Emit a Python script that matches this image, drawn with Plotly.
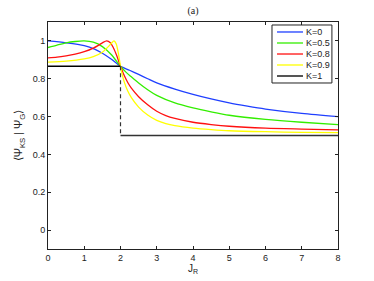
import plotly.graph_objects as go

# ---- data ----
J_k0 = [0, 0.5, 1.0, 1.3, 1.5, 1.75, 2.0, 2.25, 2.5, 2.75, 3.0, 3.5, 4.0, 4.5, 5.0, 5.5, 6.0, 7.0, 8.0]
V_k0 = [1.0, 0.99, 0.975, 0.955, 0.935, 0.903, 0.866, 0.845, 0.823, 0.80, 0.778, 0.745, 0.717, 0.693, 0.672, 0.655, 0.64, 0.617, 0.60]

J_k05 = [0, 0.25, 0.5, 0.75, 1.0, 1.25, 1.5, 1.75, 2.0, 2.15, 2.3, 2.5, 2.75, 3.0, 3.5, 4.0, 4.5, 5.0, 6.0, 7.0, 8.0]
V_k05 = [0.965, 0.978, 0.99, 0.997, 1.0, 0.993, 0.97, 0.927, 0.866, 0.835, 0.81, 0.778, 0.742, 0.712, 0.672, 0.646, 0.625, 0.607, 0.585, 0.57, 0.558]

J_k08 = [0, 0.25, 0.5, 0.75, 1.0, 1.25, 1.4, 1.5, 1.62, 1.72, 1.8, 1.9, 2.0, 2.1, 2.2, 2.3, 2.5, 2.75, 3.0, 3.25, 3.5, 4.0, 4.5, 5.0, 6.0, 7.0, 8.0]
V_k08 = [0.91, 0.914, 0.921, 0.93, 0.943, 0.962, 0.978, 0.99, 1.0, 0.99, 0.965, 0.92, 0.866, 0.818, 0.78, 0.75, 0.705, 0.662, 0.628, 0.605, 0.59, 0.57, 0.558, 0.549, 0.539, 0.534, 0.53]

J_k09 = [0, 0.5, 1.0, 1.25, 1.5, 1.65, 1.75, 1.82, 1.88, 1.94, 2.0, 2.05, 2.1, 2.2, 2.3, 2.5, 2.75, 3.0, 3.25, 3.5, 4.0, 4.5, 5.0, 6.0, 7.0, 8.0]
V_k09 = [0.888, 0.893, 0.905, 0.917, 0.94, 0.967, 0.988, 1.0, 0.985, 0.935, 0.866, 0.82, 0.785, 0.735, 0.70, 0.65, 0.608, 0.58, 0.563, 0.552, 0.539, 0.531, 0.525, 0.52, 0.517, 0.515]

J_k1_low = [0, 2]
V_k1_low = [0.866, 0.866]
J_k1_jump = [2, 2]
V_k1_jump = [0.866, 0.5]
J_k1_high = [2, 8]
V_k1_high = [0.5, 0.5]

labels = ["K=0", "K=0.5", "K=0.8", "K=0.9", "K=1"]
colors = ["#1f3fff", "#33ee00", "#ff1010", "#ffff00", "#000000"]

x_ticks = [0, 1, 2, 3, 4, 5, 6, 7, 8]
y_ticks = [0, 0.2, 0.4, 0.6, 0.8, 1]

fig = go.Figure()
series = [(J_k0, V_k0), (J_k05, V_k05), (J_k08, V_k08), (J_k09, V_k09)]
for (xs, ys), c in zip(series, colors[:4]):
    fig.add_trace(go.Scatter(x=xs, y=ys, mode="lines", showlegend=False,
                             line=dict(color=c, width=1.3, shape="spline", smoothing=0.8)))
fig.add_trace(go.Scatter(x=J_k1_low, y=V_k1_low, mode="lines", showlegend=False,
                         line=dict(color="#000000", width=1.3)))
fig.add_trace(go.Scatter(x=J_k1_jump, y=V_k1_jump, mode="lines", showlegend=False,
                         line=dict(color="#333333", width=1.2, dash="4px,3px")))
fig.add_trace(go.Scatter(x=J_k1_high, y=V_k1_high, mode="lines", showlegend=False,
                         line=dict(color="#333333", width=1.5)))

# manual legend (paper coordinates)
shapes = [dict(type="rect", xref="paper", yref="paper", x0=0.7724, x1=0.979, y0=0.7313, y1=0.9868,
               line=dict(color="#222222", width=1), fillcolor="white", layer="above")]
annotations = []
rows = [0.956, 0.9075, 0.859, 0.8106, 0.762]
leg_colors = ["#1f3fff", "#33ee00", "#ff1010", "#ffff00", "#555555"]
for r, lab, c in zip(rows, labels, leg_colors):
    shapes.append(dict(type="line", xref="paper", yref="paper", x0=0.7897, x1=0.8793, y0=r, y1=r,
                       line=dict(color=c, width=1.3 if lab != "K=1" else 2), layer="above"))
    annotations.append(dict(xref="paper", yref="paper", x=0.884, y=r, text=lab, showarrow=False,
                            xanchor="left", yanchor="middle", font=dict(size=9, color="#222222")))

axis_common = dict(showline=True, linecolor="#222222", linewidth=1, mirror="ticks",
                   ticks="inside", ticklen=3, tickcolor="#222222", showgrid=False, zeroline=False,
                   tickfont=dict(size=9, color="#222222"), automargin=False)

fig.update_layout(
    width=374, height=281,
    margin=dict(l=48, r=36, t=22, b=32),
    paper_bgcolor="white", plot_bgcolor="white",
    font=dict(family="Liberation Sans, Arial, sans-serif", size=9, color="#222222"),
    title=dict(text="(a)", x=0.516, xanchor="center", y=0.961, yanchor="middle",
               font=dict(size=10, family="Liberation Serif, serif")),
    xaxis=dict(range=[0, 8], tickvals=x_ticks, title=dict(text="J<sub>R</sub>", standoff=3,
               font=dict(size=10)), **axis_common),
    yaxis=dict(range=[-0.1, 1.1], tickvals=y_ticks, ticktext=["0", "0.2", "0.4", "0.6", "0.8", "1"],
               title=dict(text="⟨Ψ<sub>KS</sub> | Ψ<sub>G</sub>⟩", standoff=7, font=dict(size=11)),
               **axis_common),
    shapes=shapes, annotations=annotations,
)

fig.write_html("out.html", post_script="document.body.style.margin='0';",
               config={"displayModeBar": False})
